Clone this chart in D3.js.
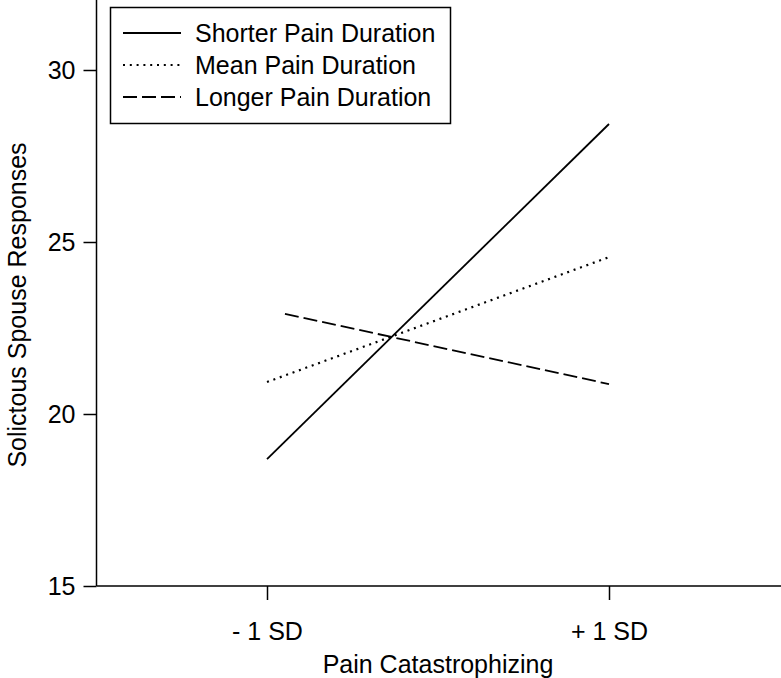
<!DOCTYPE html>
<html>
<head>
<meta charset="utf-8">
<script src="https://cdn.jsdelivr.net/npm/d3@7"></script>
<style>
  body { margin: 0; background: #fff; }
  text { font-family: "Liberation Sans", Arial, sans-serif; fill: #000; }
</style>
</head>
<body>
<div id="chart"></div>
<script>
// Simple-slopes plot: pain catastrophizing x pain duration
const W = 781, H = 678;

// data (x in SD units of pain catastrophizing)
const xTicks = [-1, 1];
const xTickLabels = ["- 1 SD", "+ 1 SD"];
const yTicks = [15, 20, 25, 30];
const seriesNames = ["Shorter Pain Duration", "Mean Pain Duration", "Longer Pain Duration"];
const shorterPts = [[-1, 18.69], [1, 28.43]];
const meanPts = [[-1, 20.93], [1, 24.56]];
const longerPts = [[-0.895, 22.91], [1, 20.87]];

const dashes = ["none", "2,4.8", "14,5"];
const FS = 25;

const svg = d3.select("#chart").append("svg").attr("width", W).attr("height", H);

// scales: -1SD at 267px, +1SD at 609px; 15 at 586px, 30 at 70px
const x = d3.scaleLinear().domain([-1, 1]).range([267, 609]);
const y = d3.scaleLinear().domain([15, 30]).range([586, 70]);

const left = 96.5, bottom = 586;

// y axis
const yAxis = d3.axisLeft(y).tickValues(yTicks).tickSize(13).tickPadding(8);
const gy = svg.append("g").attr("transform", `translate(${left},0)`).call(yAxis);
gy.select(".domain").remove();
gy.selectAll(".tick line").attr("stroke", "#000").attr("stroke-width", 1.5);
gy.selectAll(".tick text").attr("font-size", FS).attr("font-family", "Liberation Sans, Arial, sans-serif");
svg.append("line").attr("x1", left).attr("x2", left).attr("y1", 0).attr("y2", bottom)
  .attr("stroke", "#000").attr("stroke-width", 1.5);

// x axis
const xAxis = d3.axisBottom(x).tickValues(xTicks).tickFormat((d, i) => xTickLabels[i])
  .tickSize(14).tickPadding(22);
const gx = svg.append("g").attr("transform", `translate(0,${bottom})`).call(xAxis);
gx.select(".domain").remove();
gx.selectAll(".tick line").attr("stroke", "#000").attr("stroke-width", 1.5);
gx.selectAll(".tick text").attr("font-size", FS).attr("font-family", "Liberation Sans, Arial, sans-serif");
svg.append("line").attr("x1", left).attr("x2", W).attr("y1", bottom).attr("y2", bottom)
  .attr("stroke", "#000").attr("stroke-width", 1.5);

// axis titles
svg.append("text").attr("x", 438).attr("y", 673).attr("text-anchor", "middle")
  .attr("font-size", FS).text("Pain Catastrophizing");
svg.append("text").attr("transform", "translate(26,305) rotate(-90)").attr("text-anchor", "middle")
  .attr("font-size", FS).text("Solictous Spouse Responses");

// lines
const line = d3.line().x(d => x(d[0])).y(d => y(d[1]));
[shorterPts, meanPts, longerPts].forEach((pts, i) => {
  svg.append("path").attr("d", line(pts))
    .attr("fill", "none").attr("stroke", "#000")
    .attr("stroke-width", i === 1 ? 2.2 : 1.8)
    .attr("stroke-dasharray", dashes[i]);
});

// legend
const lg = svg.append("g");
lg.append("rect").attr("x", 110.5).attr("y", 7.5).attr("width", 340).attr("height", 116)
  .attr("fill", "#fff").attr("stroke", "#000").attr("stroke-width", 1.5);
seriesNames.forEach((name, i) => {
  const ly = 33 + i * 32;
  lg.append("line").attr("x1", 123).attr("x2", 181).attr("y1", ly).attr("y2", ly)
    .attr("stroke", "#000").attr("stroke-width", i === 1 ? 2.2 : 1.8)
    .attr("stroke-dasharray", dashes[i]);
  lg.append("text").attr("x", 195).attr("y", ly + 9).attr("font-size", FS).text(name);
});
</script>
</body>
</html>
